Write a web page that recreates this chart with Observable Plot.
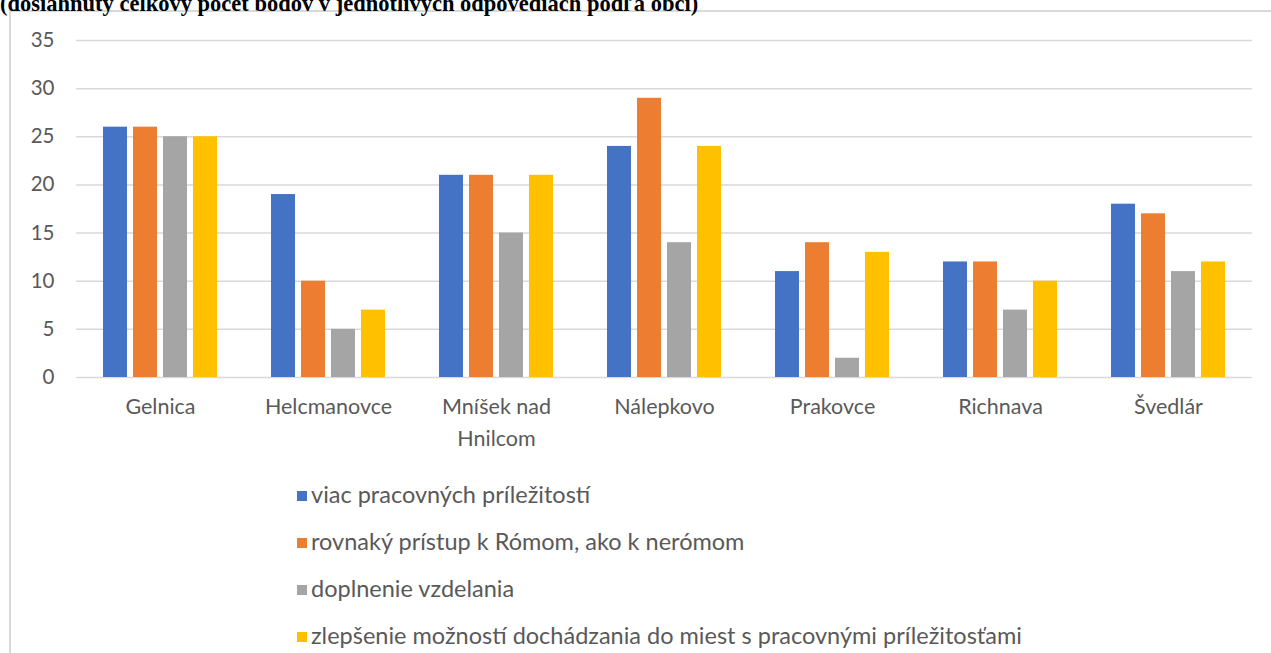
<!DOCTYPE html>
<html>
<head>
<meta charset="utf-8">
<script src="https://cdn.jsdelivr.net/npm/d3@7"></script>
<script src="https://cdn.jsdelivr.net/npm/@observablehq/plot@0.6"></script>
<style>
  html, body { margin: 0; padding: 0; background: #fff; }
  #wrap { position: relative; width: 1271px; height: 653px; overflow: hidden; }
  #title { position: absolute; left: 0; top: -7px; font: bold 22.5px "Liberation Serif", serif; line-height: 1; color: #000; white-space: nowrap; }
  #frame { position: absolute; left: 9px; top: 10px; width: 1300px; height: 700px; border-left: 2px solid #d9d9d9; border-top: 2px solid #d9d9d9; }
  #chart { position: absolute; left: 0; top: 0; }
  #legend { position: absolute; left: 297px; top: 471px; font: 23.5px Lato, sans-serif; color: #595959; }
  .item { height: 47px; line-height: 47px; white-space: nowrap; }
  .sw { display: inline-block; width: 10px; height: 10px; margin-right: 4px; vertical-align: 2px; }
</style>
</head>
<body>
<div id="wrap">
  <div id="frame"></div>
  <div id="title">(dosiahnutý celkový počet bodov v jednotlivých odpovediach podľa obcí)</div>
  <div id="chart"></div>
  <div id="legend"></div>
</div>
<script>
const towns = ["Gelnica", "Helcmanovce", "Mníšek nad Hnilcom", "Nálepkovo", "Prakovce", "Richnava", "Švedlár"];
const series = [
  "viac pracovných príležitostí",
  "rovnaký prístup k Rómom, ako k nerómom",
  "doplnenie vzdelania",
  "zlepšenie možností dochádzania do miest s pracovnými príležitosťami"
];
const colors = ["#4472C4", "#ED7D31", "#A5A5A5", "#FFC000"];
const viac = [26, 19, 21, 24, 11, 12, 18];
const rovnaky = [26, 10, 21, 29, 14, 12, 17];
const doplnenie = [25, 5, 15, 14, 2, 7, 11];
const zlepsenie = [25, 7, 21, 24, 13, 10, 12];
const yTicks = [0, 5, 10, 15, 20, 25, 30, 35];

const valuesBySeries = [viac, rovnaky, doplnenie, zlepsenie];
const data = [];
towns.forEach((t, i) => {
  series.forEach((s, j) => data.push({town: t, series: s, value: valuesBySeries[j][i]}));
});

const chart = Plot.plot({
  width: 1271,
  height: 460,
  marginLeft: 74,
  marginRight: 18,
  marginTop: 40,
  marginBottom: 83,
  style: {fontFamily: "Lato, sans-serif", fontSize: "21px", color: "#595959", background: "transparent"},
  fx: {domain: towns, padding: 0, label: null},
  x: {domain: series, paddingInner: 0.2, paddingOuter: 0.86, axis: null},
  y: {domain: [0, 35], label: null},
  color: {domain: series, range: colors},
  marks: [
    Plot.gridY(yTicks, {stroke: "#d9d9d9", strokeOpacity: 1, strokeWidth: 1.5}),
    Plot.axisY(yTicks, {tickSize: 0, tickPadding: 22, label: null, fontSize: 20.5}),
    Plot.axisFx({anchor: "bottom", tickSize: 0, tickPadding: 14, label: null, fontSize: 21.5, lineHeight: 1.48,
      tickFormat: d => d === "Mníšek nad Hnilcom" ? "Mníšek nad\nHnilcom" : d}),
    Plot.barY(data, {fx: "town", x: "series", y: "value", fill: "series"})
  ]
});
document.getElementById("chart").appendChild(chart);

const legend = document.getElementById("legend");
series.forEach((s, i) => {
  const row = document.createElement("div");
  row.className = "item";
  const sw = document.createElement("span");
  sw.className = "sw";
  sw.style.background = colors[i];
  row.appendChild(sw);
  row.appendChild(document.createTextNode(s));
  legend.appendChild(row);
});
</script>
</body>
</html>
